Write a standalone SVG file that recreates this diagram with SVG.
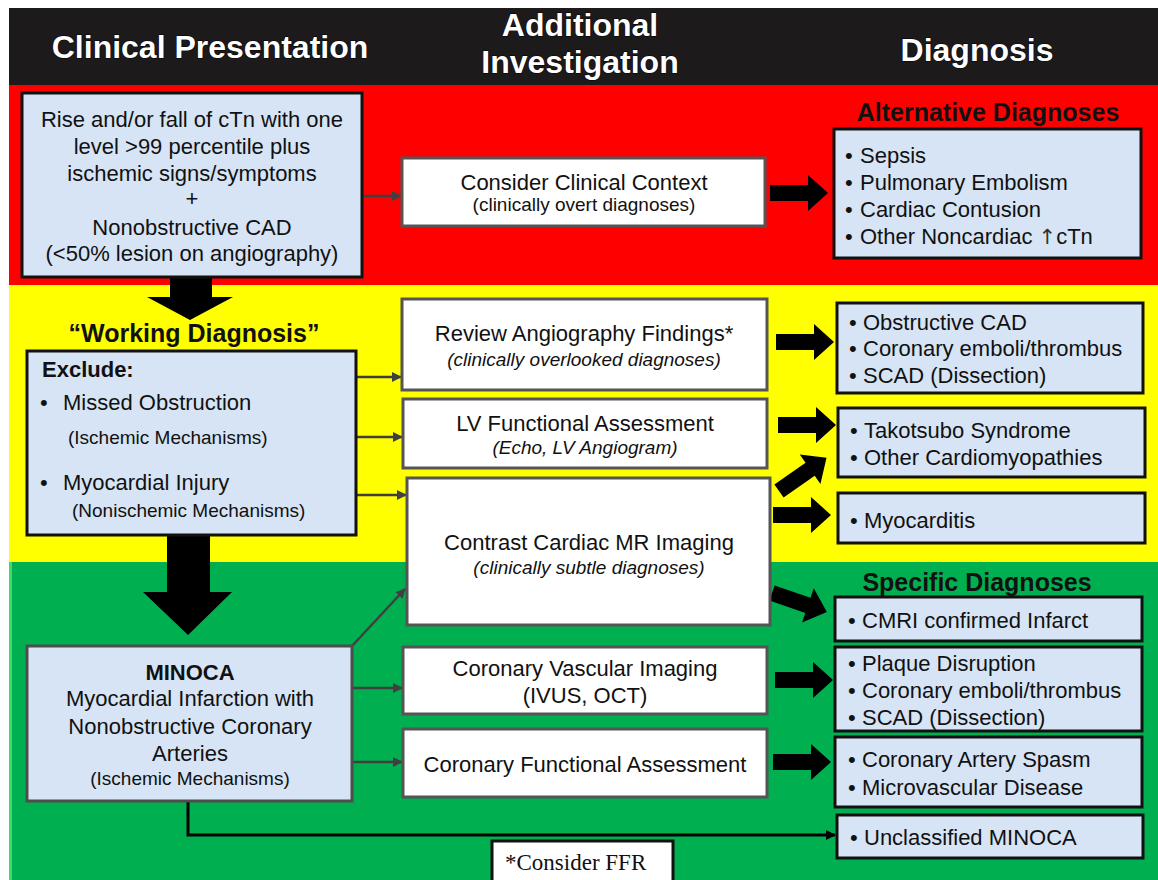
<svg xmlns="http://www.w3.org/2000/svg" width="1158" height="880" viewBox="0 0 1158 880">
<style>
text{font-family:"Liberation Sans",Arial,sans-serif;fill:#111}
.hd{font-size:32px;font-weight:bold;fill:#fff;text-anchor:middle;stroke:#000;stroke-width:1;paint-order:stroke}
.t{font-size:22px}
.c{text-anchor:middle}
.s{font-size:19px}
.i{font-style:italic}
.b{font-weight:bold}
.tt{font-size:25px;font-weight:bold;text-anchor:middle}
.lb{fill:#d6e4f5;stroke:#111;stroke-width:3}
.lg{fill:#d6e4f5;stroke:#4d4d4d;stroke-width:3}
.wb{fill:#fff;stroke:#555;stroke-width:3}
.cn{stroke:#404040;stroke-width:2.5;fill:none}
.thick{fill:#000}
</style>
<defs>
<marker id="ah" viewBox="0 0 10 10" refX="9" refY="5" markerWidth="10" markerHeight="10" markerUnits="userSpaceOnUse" orient="auto">
<path d="M0,0 L10,5 L0,10 Z" fill="#404040"/>
</marker>
<marker id="ahk" viewBox="0 0 10 10" refX="9" refY="5" markerWidth="10" markerHeight="10" markerUnits="userSpaceOnUse" orient="auto">
<path d="M0,0 L10,5 L0,10 Z" fill="#000"/>
</marker>
<path id="tha" d="M0,-8 H38 V-18 L58,0 L38,18 V8 H0 Z"/>
</defs>

<!-- bands -->
<g id="bands">
<rect x="0" y="0" width="1158" height="880" fill="#fff"/>
<rect x="9" y="8" width="1149" height="78" fill="#1c1a1b"/>
<rect x="9" y="85" width="1149" height="200" fill="#ff0000"/>
<rect x="9" y="285" width="1149" height="277" fill="#ffff00"/>
<rect x="9" y="562" width="1149" height="318" fill="#00b050"/>
<rect x="9" y="562" width="3" height="318" fill="#3ddc6a"/>
</g>

<g id="header">
<text class="hd" x="210" y="58">Clinical Presentation</text>
<text class="hd" x="580" y="36">Additional</text>
<text class="hd" x="580" y="73">Investigation</text>
<text class="hd" x="977" y="61">Diagnosis</text>
</g>

<!-- big down arrows -->
<g id="bigarrows" class="thick">
<path d="M170,276 H212 V297 H233 L190,320 L147,297 H170 Z"/>
<path d="M167,534 H210 V592 H232 L188,635 L143,592 H167 Z"/>
</g>

<!-- connectors -->
<g id="connectors">
<line class="cn" x1="362" y1="196" x2="401" y2="196" marker-end="url(#ah)"/>
<line class="cn" x1="356" y1="377" x2="401" y2="377" marker-end="url(#ah)"/>
<line class="cn" x1="356" y1="437" x2="402" y2="437" marker-end="url(#ah)"/>
<line class="cn" x1="356" y1="495" x2="406" y2="495" marker-end="url(#ah)"/>
<line class="cn" x1="352" y1="646" x2="405" y2="589" marker-end="url(#ah)"/>
<line class="cn" x1="352" y1="688" x2="402" y2="688" marker-end="url(#ah)"/>
<line class="cn" x1="352" y1="762" x2="402" y2="762" marker-end="url(#ah)"/>
<path d="M188,801 V835 H835" fill="none" stroke="#000" stroke-width="3" marker-end="url(#ahk)"/>
<g class="thick">
<use href="#tha" transform="translate(770,193)"/>
<use href="#tha" transform="translate(776,342)"/>
<use href="#tha" transform="translate(778,425)"/>
<use href="#tha" transform="translate(779,491) rotate(-35)"/>
<use href="#tha" transform="translate(773,515)"/>
<use href="#tha" transform="translate(772,593) rotate(19)"/>
<use href="#tha" transform="translate(775,680)"/>
<use href="#tha" transform="translate(773,762)"/>
</g>
</g>

<!-- left column -->
<g id="n-rise">
<rect class="lb" x="22" y="93" width="340" height="184"/>
<text class="t c" x="192" y="127">Rise and/or fall of cTn with one</text>
<text class="t c" x="192" y="154">level &gt;99 percentile plus</text>
<text class="t c" x="192" y="181">ischemic signs/symptoms</text>
<text class="t c" x="192" y="206">+</text>
<text class="t c" x="192" y="235">Nonobstructive CAD</text>
<text class="t c" x="192" y="261">(&lt;50% lesion on angiography)</text>
</g>

<g id="n-working-title">
<text class="tt" x="194" y="342">“Working Diagnosis”</text>
</g>

<g id="n-exclude">
<rect class="lb" x="27" y="351" width="329" height="184"/>
<text class="t b" x="42" y="377">Exclude:</text>
<text class="t" x="40" y="410">•</text>
<text class="t" x="63" y="410">Missed Obstruction</text>
<text class="s" x="68" y="444">(Ischemic Mechanisms)</text>
<text class="t" x="40" y="490">•</text>
<text class="t" x="63" y="490">Myocardial Injury</text>
<text class="s" x="72" y="517">(Nonischemic Mechanisms)</text>
</g>

<g id="n-minoca">
<rect class="lg" x="27" y="646" width="325" height="155"/>
<text class="t c b" x="190" y="680">MINOCA</text>
<text class="t c" x="190" y="706">Myocardial Infarction with</text>
<text class="t c" x="190" y="734">Nonobstructive Coronary</text>
<text class="t c" x="190" y="761">Arteries</text>
<text class="s c" x="190" y="785">(Ischemic Mechanisms)</text>
</g>

<!-- middle column -->
<g id="n-context">
<rect class="wb" x="402" y="158" width="363" height="68"/>
<text class="t c" x="584" y="190">Consider Clinical Context</text>
<text class="s c" x="584" y="211">(clinically overt diagnoses)</text>
</g>

<g id="n-review">
<rect class="wb" x="402" y="299" width="365" height="91"/>
<text class="t c" x="584" y="341">Review Angiography Findings*</text>
<text class="s c i" x="584" y="366">(clinically overlooked diagnoses)</text>
</g>

<g id="n-lv">
<rect class="wb" x="403" y="399" width="364" height="69"/>
<text class="t c" x="585" y="431">LV Functional Assessment</text>
<text class="s c i" x="585" y="454">(Echo, LV Angiogram)</text>
</g>

<g id="n-mr">
<rect class="wb" x="407" y="478" width="363" height="147"/>
<text class="t c" x="589" y="550">Contrast Cardiac MR Imaging</text>
<text class="s c i" x="589" y="574">(clinically subtle diagnoses)</text>
</g>

<g id="n-cvi">
<rect class="wb" x="403" y="647" width="364" height="67"/>
<text class="t c" x="585" y="676">Coronary Vascular Imaging</text>
<text class="t c" x="585" y="703">(IVUS, OCT)</text>
</g>

<g id="n-cfa">
<rect class="wb" x="403" y="729" width="364" height="68"/>
<text class="t c" x="585" y="772">Coronary Functional Assessment</text>
</g>

<g id="n-ffr">
<rect x="492" y="841" width="181" height="45" fill="#fff" stroke="#111" stroke-width="3"/>
<text x="505" y="870" style="font-family:'Liberation Serif','Times New Roman',serif;font-size:23px">*Consider FFR</text>
</g>

<!-- right column -->
<g id="n-alt-title">
<text class="tt" x="988" y="121">Alternative Diagnoses</text>
</g>
<g id="n-alt">
<rect class="lb" x="834" y="129" width="307" height="129"/>
<text class="t" x="845" y="163">•</text><text class="t" x="860" y="163">Sepsis</text>
<text class="t" x="845" y="190">•</text><text class="t" x="860" y="190">Pulmonary Embolism</text>
<text class="t" x="845" y="217">•</text><text class="t" x="860" y="217">Cardiac Contusion</text>
<text class="t" x="845" y="244">•</text><text class="t" x="860" y="244">Other Noncardiac <tspan style="font-family:'DejaVu Sans',sans-serif;font-size:21px;fill:#333">↑</tspan>cTn</text>
</g>

<g id="n-obstructive">
<rect class="lb" x="837" y="303" width="306" height="90"/>
<text class="t" x="849" y="330">•</text><text class="t" x="863" y="330">Obstructive CAD</text>
<text class="t" x="849" y="356">•</text><text class="t" x="863" y="356">Coronary emboli/thrombus</text>
<text class="t" x="849" y="383">•</text><text class="t" x="863" y="383">SCAD (Dissection)</text>
</g>

<g id="n-takotsubo">
<rect class="lb" x="838" y="408" width="307" height="69"/>
<text class="t" x="850" y="438">•</text><text class="t" x="864" y="438">Takotsubo Syndrome</text>
<text class="t" x="850" y="465">•</text><text class="t" x="864" y="465">Other Cardiomyopathies</text>
</g>

<g id="n-myocarditis">
<rect class="lb" x="838" y="493" width="307" height="50"/>
<text class="t" x="850" y="528">•</text><text class="t" x="864" y="528">Myocarditis</text>
</g>

<g id="n-spec-title">
<text class="tt" x="977" y="591">Specific Diagnoses</text>
</g>

<g id="n-cmri">
<rect class="lb" x="835" y="597" width="307" height="44"/>
<text class="t" x="848" y="628">•</text><text class="t" x="862" y="628">CMRI confirmed Infarct</text>
</g>

<g id="n-plaque">
<rect class="lb" x="835" y="647" width="307" height="84"/>
<text class="t" x="848" y="671">•</text><text class="t" x="862" y="671">Plaque Disruption</text>
<text class="t" x="848" y="698">•</text><text class="t" x="862" y="698">Coronary emboli/thrombus</text>
<text class="t" x="848" y="725">•</text><text class="t" x="862" y="725">SCAD (Dissection)</text>
</g>

<g id="n-spasm">
<rect class="lb" x="835" y="737" width="307" height="70"/>
<text class="t" x="848" y="767">•</text><text class="t" x="862" y="767">Coronary Artery Spasm</text>
<text class="t" x="848" y="795">•</text><text class="t" x="862" y="795">Microvascular Disease</text>
</g>

<g id="n-unclassified">
<rect class="lb" x="837" y="815" width="306" height="43"/>
<text class="t" x="850" y="845">•</text><text class="t" x="864" y="845">Unclassified MINOCA</text>
</g>
</svg>
